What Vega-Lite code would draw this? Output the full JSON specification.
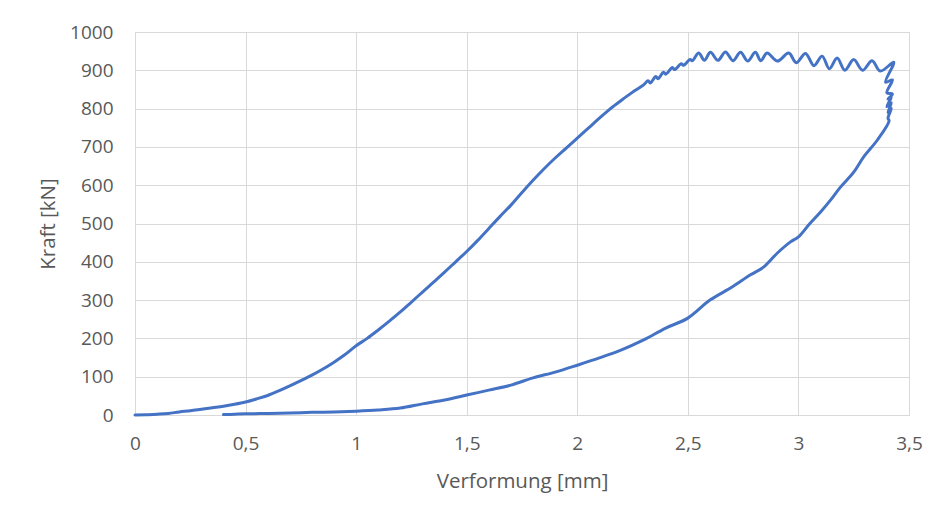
{
  "$schema": "https://vega.github.io/schema/vega-lite/v6.json",
  "width": 774,
  "height": 383,
  "autosize": {"type": "none"},
  "padding": {"left": 135, "top": 32, "right": 35, "bottom": 102},
  "background": "white",
  "config": {
    "view": {"stroke": "#d9d9d9", "strokeWidth": 1},
    "axis": {
      "labelFont": "Open Sans",
      "titleFont": "Open Sans",
      "labelFontSize": 19,
      "titleFontSize": 20.5,
      "labelColor": "#595959",
      "titleColor": "#595959",
      "titleFontWeight": "normal",
      "gridColor": "#d9d9d9",
      "domainColor": "#d9d9d9",
      "ticks": false,
      "labelFlush": false
    }
  },
  "data": {
    "values": [
      {"i": 1, "x": 0, "y": 0},
      {"i": 2, "x": 0.05, "y": 0.5},
      {"i": 3, "x": 0.1, "y": 2},
      {"i": 4, "x": 0.15, "y": 4},
      {"i": 5, "x": 0.2, "y": 8},
      {"i": 6, "x": 0.25, "y": 11},
      {"i": 7, "x": 0.3, "y": 15},
      {"i": 8, "x": 0.35, "y": 19},
      {"i": 9, "x": 0.4, "y": 23},
      {"i": 10, "x": 0.45, "y": 28},
      {"i": 11, "x": 0.5, "y": 34},
      {"i": 12, "x": 0.55, "y": 42},
      {"i": 13, "x": 0.6, "y": 51},
      {"i": 14, "x": 0.65, "y": 63},
      {"i": 15, "x": 0.7, "y": 76},
      {"i": 16, "x": 0.75, "y": 90},
      {"i": 17, "x": 0.8, "y": 104},
      {"i": 18, "x": 0.85, "y": 120},
      {"i": 19, "x": 0.9, "y": 138},
      {"i": 20, "x": 0.95, "y": 158},
      {"i": 21, "x": 1.0, "y": 181},
      {"i": 22, "x": 1.05, "y": 200},
      {"i": 23, "x": 1.1, "y": 222},
      {"i": 24, "x": 1.15, "y": 245},
      {"i": 25, "x": 1.2, "y": 269},
      {"i": 26, "x": 1.25, "y": 295},
      {"i": 27, "x": 1.3, "y": 321},
      {"i": 28, "x": 1.35, "y": 347},
      {"i": 29, "x": 1.4, "y": 373},
      {"i": 30, "x": 1.45, "y": 400},
      {"i": 31, "x": 1.5, "y": 427},
      {"i": 32, "x": 1.55, "y": 456},
      {"i": 33, "x": 1.6, "y": 487},
      {"i": 34, "x": 1.65, "y": 518},
      {"i": 35, "x": 1.7, "y": 548},
      {"i": 36, "x": 1.75, "y": 581},
      {"i": 37, "x": 1.8, "y": 613},
      {"i": 38, "x": 1.85, "y": 643},
      {"i": 39, "x": 1.9, "y": 671},
      {"i": 40, "x": 1.95, "y": 697},
      {"i": 41, "x": 2.0, "y": 723},
      {"i": 42, "x": 2.05, "y": 749},
      {"i": 43, "x": 2.1, "y": 775},
      {"i": 44, "x": 2.15, "y": 800},
      {"i": 45, "x": 2.2, "y": 822},
      {"i": 46, "x": 2.25, "y": 843},
      {"i": 47, "x": 2.3, "y": 862},
      {"i": 48, "x": 2.32, "y": 873},
      {"i": 49, "x": 2.33, "y": 867},
      {"i": 50, "x": 2.355, "y": 884},
      {"i": 51, "x": 2.365, "y": 878},
      {"i": 52, "x": 2.39, "y": 895},
      {"i": 53, "x": 2.4, "y": 890},
      {"i": 54, "x": 2.43, "y": 907},
      {"i": 55, "x": 2.44, "y": 902},
      {"i": 56, "x": 2.47, "y": 917},
      {"i": 57, "x": 2.48, "y": 913},
      {"i": 58, "x": 2.51, "y": 928},
      {"i": 59, "x": 2.52, "y": 925},
      {"i": 60, "x": 2.549, "y": 945},
      {"i": 61, "x": 2.575, "y": 926},
      {"i": 62, "x": 2.602, "y": 947},
      {"i": 63, "x": 2.636, "y": 926},
      {"i": 64, "x": 2.67, "y": 948},
      {"i": 65, "x": 2.704, "y": 925},
      {"i": 66, "x": 2.738, "y": 947},
      {"i": 67, "x": 2.771, "y": 924},
      {"i": 68, "x": 2.805, "y": 947},
      {"i": 69, "x": 2.83, "y": 925},
      {"i": 70, "x": 2.858, "y": 945},
      {"i": 71, "x": 2.905, "y": 924},
      {"i": 72, "x": 2.956, "y": 945},
      {"i": 73, "x": 2.99, "y": 920},
      {"i": 74, "x": 3.032, "y": 944},
      {"i": 75, "x": 3.07, "y": 912},
      {"i": 76, "x": 3.107, "y": 937},
      {"i": 77, "x": 3.14, "y": 904},
      {"i": 78, "x": 3.175, "y": 932},
      {"i": 79, "x": 3.21, "y": 900},
      {"i": 80, "x": 3.25, "y": 928},
      {"i": 81, "x": 3.29, "y": 900},
      {"i": 82, "x": 3.333, "y": 925},
      {"i": 83, "x": 3.37, "y": 898},
      {"i": 84, "x": 3.431, "y": 921},
      {"i": 85, "x": 3.394, "y": 869},
      {"i": 86, "x": 3.425, "y": 875},
      {"i": 87, "x": 3.4, "y": 841},
      {"i": 88, "x": 3.425, "y": 838},
      {"i": 89, "x": 3.405, "y": 825},
      {"i": 90, "x": 3.42, "y": 830},
      {"i": 91, "x": 3.4, "y": 805},
      {"i": 92, "x": 3.42, "y": 815},
      {"i": 93, "x": 3.405, "y": 790},
      {"i": 94, "x": 3.42, "y": 800},
      {"i": 95, "x": 3.405, "y": 775},
      {"i": 96, "x": 3.41, "y": 768},
      {"i": 97, "x": 3.357, "y": 718},
      {"i": 98, "x": 3.295, "y": 674},
      {"i": 99, "x": 3.25, "y": 634},
      {"i": 100, "x": 3.19, "y": 595},
      {"i": 101, "x": 3.145, "y": 561},
      {"i": 102, "x": 3.1, "y": 530},
      {"i": 103, "x": 3.046, "y": 496},
      {"i": 104, "x": 3.0, "y": 465},
      {"i": 105, "x": 2.964, "y": 452},
      {"i": 106, "x": 2.905, "y": 423},
      {"i": 107, "x": 2.842, "y": 386},
      {"i": 108, "x": 2.783, "y": 366},
      {"i": 109, "x": 2.7, "y": 334},
      {"i": 110, "x": 2.6, "y": 300},
      {"i": 111, "x": 2.5, "y": 253},
      {"i": 112, "x": 2.4, "y": 227},
      {"i": 113, "x": 2.3, "y": 196},
      {"i": 114, "x": 2.2, "y": 170},
      {"i": 115, "x": 2.1, "y": 149},
      {"i": 116, "x": 2.0, "y": 130},
      {"i": 117, "x": 1.9, "y": 112},
      {"i": 118, "x": 1.8, "y": 97},
      {"i": 119, "x": 1.7, "y": 78},
      {"i": 120, "x": 1.6, "y": 65},
      {"i": 121, "x": 1.5, "y": 52},
      {"i": 122, "x": 1.4, "y": 39},
      {"i": 123, "x": 1.3, "y": 29},
      {"i": 124, "x": 1.2, "y": 18},
      {"i": 125, "x": 1.1, "y": 13},
      {"i": 126, "x": 1.0, "y": 10},
      {"i": 127, "x": 0.9, "y": 8},
      {"i": 128, "x": 0.8, "y": 7},
      {"i": 129, "x": 0.7, "y": 5},
      {"i": 130, "x": 0.6, "y": 4},
      {"i": 131, "x": 0.5, "y": 3},
      {"i": 132, "x": 0.45, "y": 2},
      {"i": 133, "x": 0.4, "y": 1}
    ]
  },
  "mark": {"type": "line", "color": "#4472C4", "strokeWidth": 3, "strokeJoin": "round", "strokeCap": "round", "interpolate": "catmull-rom", "clip": false},
  "encoding": {
    "order": {"field": "i", "type": "quantitative"},
    "x": {
      "field": "x",
      "type": "quantitative",
      "scale": {"domain": [0, 3.5], "nice": false, "zero": false},
      "axis": {
        "title": "Verformung [mm]",
        "values": [0, 0.5, 1, 1.5, 2, 2.5, 3, 3.5],
        "labelExpr": "replace(toString(datum.value), '.', ',')",
        "labelPadding": 19,
        "titlePadding": 18,
        "grid": true
      }
    },
    "y": {
      "field": "y",
      "type": "quantitative",
      "scale": {"domain": [0, 1000], "nice": false},
      "axis": {
        "title": "Kraft [kN]",
        "values": [0, 100, 200, 300, 400, 500, 600, 700, 800, 900, 1000],
        "format": "d",
        "labelPadding": 22,
        "titlePadding": 11,
        "grid": true
      }
    }
  }
}
